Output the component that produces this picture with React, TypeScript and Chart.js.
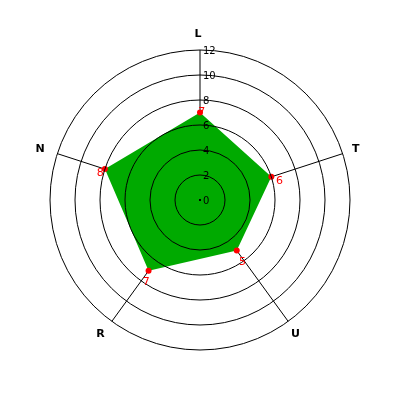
import React, { useEffect, useRef } from "react";
import { Chart, registerables } from "chart.js";

Chart.register(...registerables);

const categories = ["L", "T", "U", "R", "N"];
const values = [7, 6, 5, 7, 8];
const tickValues = [0, 2, 4, 6, 8, 10, 12];

const overlayPlugin = {
  id: "overlay",
  afterDatasetsDraw(chart: any) {
    const ctx = chart.ctx;
    const scale = chart.scales.r;
    const cx = scale.xCenter;
    const cy = scale.yCenter;
    ctx.save();
    // circles over the fill
    ctx.strokeStyle = "#000";
    ctx.lineWidth = 1;
    tickValues.forEach((v) => {
      const r = scale.getDistanceFromCenterForValue(v);
      if (r <= 0) return;
      ctx.beginPath();
      ctx.arc(cx, cy, r, 0, Math.PI * 2);
      ctx.stroke();
    });
    // center dot
    ctx.fillStyle = "#000";
    ctx.fillRect(cx - 1, cy - 1, 2, 2);
    // tick labels
    ctx.font = "10px 'DejaVu Sans'";
    ctx.textAlign = "left";
    ctx.textBaseline = "middle";
    tickValues.forEach((v) => {
      const r = scale.getDistanceFromCenterForValue(v);
      ctx.fillText(String(v), cx + 3, cy - r + 1);
    });
    // value labels
    const meta = chart.getDatasetMeta(0);
    ctx.fillStyle = "#ff0000";
    ctx.font = "11px 'DejaVu Sans'";
    ctx.textAlign = "center";
    meta.data.forEach((pt: any, i: number) => {
      const p = scale.getPointPosition(i, 1);
      const ux = p.x - cx;
      const uy = p.y - cy;
      ctx.fillText(String(values[i]), pt.x + 6.7 * ux + 1.7, pt.y + 6.7 * uy + 6.1);
    });
    // point labels
    ctx.fillStyle = "#000";
    ctx.font = "bold 11px 'DejaVu Sans'";
    categories.forEach((c, i) => {
      const p = scale.getPointPosition(i, scale.drawingArea + 16);
      ctx.fillText(c, p.x - 2, p.y);
    });
    ctx.restore();
  },
};

export default function App() {
  const ref = useRef<HTMLCanvasElement | null>(null);
  useEffect(() => {
    if (!ref.current) return;
    const chart = new Chart(ref.current, {
      type: "radar",
      data: {
        labels: categories,
        datasets: [
          {
            data: values,
            backgroundColor: "rgb(0,170,0)",
            borderWidth: 0,
            borderColor: "rgba(0,0,0,0)",
            fill: true,
            pointRadius: 3,
            pointBackgroundColor: "#ff0000",
            pointBorderColor: "#ff0000",
            pointBorderWidth: 0,
          },
        ],
      },
      options: {
        animation: false,
        responsive: false,
        layout: { padding: 50 },
        plugins: { legend: { display: false }, tooltip: { enabled: false } },
        scales: {
          r: {
            min: 0,
            max: 12,
            ticks: { display: false, stepSize: 2 },
            pointLabels: { display: false },
            grid: { display: false, circular: true },
            angleLines: { display: true, color: "#000", lineWidth: 1 },
          },
        },
      },
      plugins: [overlayPlugin],
    });
    return () => chart.destroy();
  }, []);
  return (
    <div style={{ position: "fixed", left: 0, top: 0, width: 400, height: 400, background: "#fff" }}>
      <canvas ref={ref} width={400} height={400} />
    </div>
  );
}
